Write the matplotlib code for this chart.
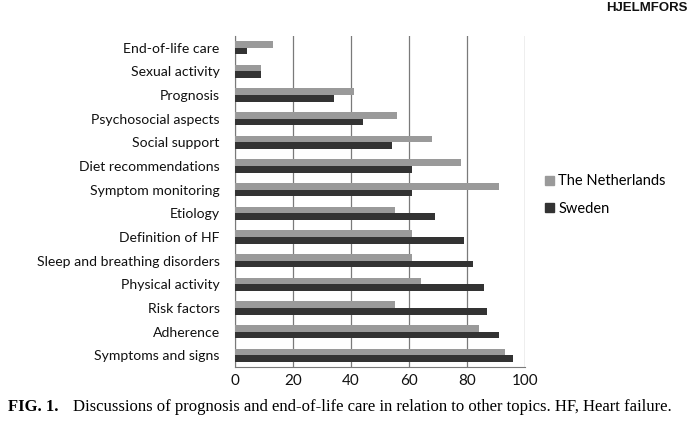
import matplotlib
matplotlib.use("Agg")
import matplotlib.pyplot as plt
import numpy as np
from matplotlib.patches import Patch

topics = ["End-of-life care", "Sexual activity", "Prognosis", "Psychosocial aspects",
          "Social support", "Diet recommendations", "Symptom monitoring", "Etiology",
          "Definition of HF", "Sleep and breathing disorders", "Physical activity",
          "Risk factors", "Adherence", "Symptoms and signs"]
netherlands = [13, 9, 41, 56, 68, 78, 91, 55, 61, 61, 64, 55, 84, 93]
sweden = [4, 9, 34, 44, 54, 61, 61, 69, 79, 82, 86, 87, 91, 96]
xticks = [0, 20, 40, 60, 80, 100]

NL_COL = "#9a9a9a"
SE_COL = "#333333"

fig = plt.figure(figsize=(6.9, 4.23), dpi=100)
ax = fig.add_axes([235 / 690, 1 - 367 / 423, 290 / 690, 331 / 423])

y = np.arange(len(topics))
h = 0.28
ax.barh(y - h / 2, netherlands, height=h, color=NL_COL, zorder=3)
ax.barh(y + h / 2, sweden, height=h, color=SE_COL, zorder=3)

ax.set_ylim(len(topics) - 0.5, -0.5)
ax.set_xlim(0, 100)
ax.set_yticks(y)
ax.set_yticklabels(topics, family="Lato", fontsize=10.1, color="#111111")
ax.set_xticks(xticks)
ax.set_xticklabels([str(v) for v in xticks], family="Lato", fontsize=11, color="#111111")
ax.tick_params(axis="y", length=0, pad=11)
ax.tick_params(axis="x", length=0, pad=5)
ax.grid(axis="x", color="#7a7a7a", lw=0.9, zorder=0)
for s in ("top", "right"):
    ax.spines[s].set_visible(False)
ax.spines["left"].set_color("#7a7a7a")
ax.spines["bottom"].set_color("#7a7a7a")

handles = [Patch(color=NL_COL), Patch(color=SE_COL)]
fig.legend(handles, ["The Netherlands", "Sweden"], loc="center left",
           bbox_to_anchor=(532 / 690, 1 - 195 / 423), frameon=False,
           prop={"family": "Lato", "size": 10.5}, handlelength=0.6, handleheight=0.6,
           handletextpad=0.3, labelspacing=0.9)

fig.text(0.997, 1 - 8 / 423, "HJELMFORS", ha="right", va="center",
         family="Liberation Sans", weight="bold", fontsize=9.5, color="#111111")
fig.text(8 / 690, 1 - 407 / 423, "FIG. 1.", ha="left", va="center",
         family="Liberation Serif", weight="bold", fontsize=12)
fig.text(73 / 690, 1 - 407 / 423,
         "Discussions of prognosis and end-of-life care in relation to other topics. HF, Heart failure.",
         ha="left", va="center", family="Liberation Serif", fontsize=12)

fig.savefig("out.png", dpi=100)
